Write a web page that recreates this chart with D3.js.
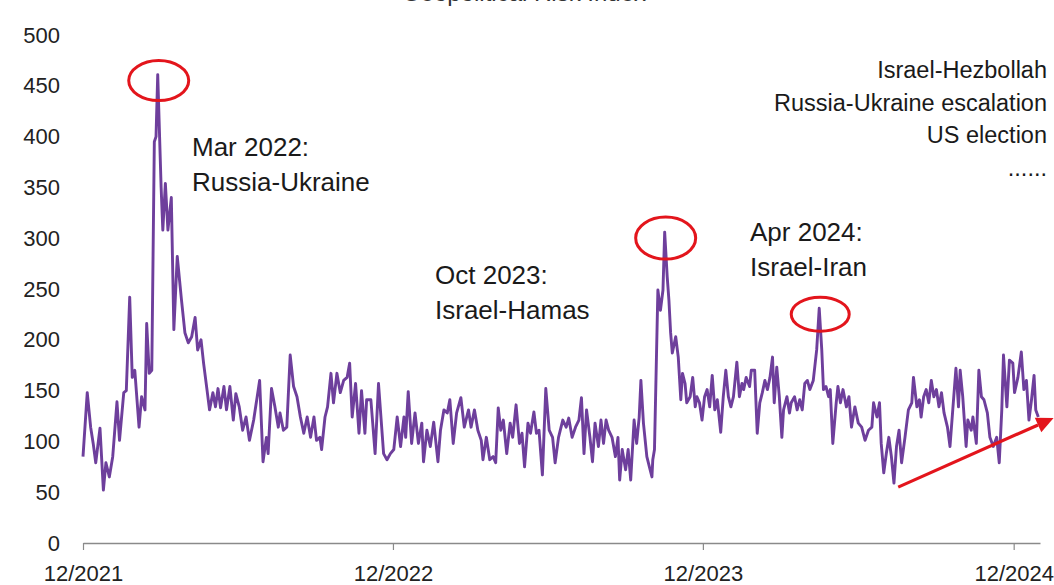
<!DOCTYPE html>
<html>
<head>
<meta charset="utf-8">
<script src="https://cdn.jsdelivr.net/npm/d3@7"></script>
<style>
  body { margin: 0; background: #ffffff; }
  svg { display: block; font-family: "Liberation Sans", Arial, sans-serif; }
</style>
</head>
<body>
<div id="chart"></div>
<script>
// geopolitical risk index (roughly every 3-4 days)
const dates = [
  "2021-12-01","2021-12-06","2021-12-10","2021-12-13","2021-12-16","2021-12-21","2021-12-25","2021-12-28",
  "2022-01-01","2022-01-05","2022-01-10","2022-01-13","2022-01-18","2022-01-21","2022-01-25","2022-01-28","2022-01-31",
  "2022-02-05","2022-02-08","2022-02-12","2022-02-14","2022-02-17","2022-02-20","2022-02-23","2022-02-25","2022-02-27",
  "2022-03-03","2022-03-05","2022-03-08","2022-03-11","2022-03-15","2022-03-18","2022-03-22","2022-03-27","2022-03-31",
  "2022-04-04","2022-04-08","2022-04-12","2022-04-15","2022-04-19","2022-04-22","2022-04-26","2022-04-29",
  "2022-05-03","2022-05-06","2022-05-09","2022-05-12","2022-05-16","2022-05-19","2022-05-23","2022-05-27","2022-05-30",
  "2022-06-03","2022-06-07","2022-06-11","2022-06-15","2022-06-20","2022-06-27",
  "2022-07-01","2022-07-05","2022-07-07","2022-07-11","2022-07-15","2022-07-19","2022-07-21","2022-07-25","2022-07-29",
  "2022-08-02","2022-08-06","2022-08-10","2022-08-14","2022-08-18","2022-08-22","2022-08-26","2022-08-30",
  "2022-09-02","2022-09-06","2022-09-08","2022-09-12","2022-09-15","2022-09-19","2022-09-22","2022-09-26","2022-09-30",
  "2022-10-04","2022-10-08","2022-10-11","2022-10-14","2022-10-18","2022-10-22","2022-10-25","2022-10-29","2022-10-31",
  "2022-11-05","2022-11-10","2022-11-14","2022-11-20","2022-11-24","2022-11-28",
  "2022-12-02","2022-12-06","2022-12-10","2022-12-14","2022-12-16","2022-12-19","2022-12-23","2022-12-27","2022-12-31",
  "2023-01-04","2023-01-06","2023-01-10","2023-01-14","2023-01-18","2023-01-23","2023-01-26","2023-01-30",
  "2023-02-03","2023-02-06","2023-02-10","2023-02-14","2023-02-19","2023-02-23","2023-02-28",
  "2023-03-03","2023-03-07","2023-03-11","2023-03-15","2023-03-17","2023-03-21","2023-03-25","2023-03-29",
  "2023-04-01","2023-04-04","2023-04-07","2023-04-10","2023-04-14","2023-04-18","2023-04-21","2023-04-25","2023-04-29",
  "2023-05-02","2023-05-05","2023-05-09","2023-05-12","2023-05-16","2023-05-19","2023-05-22","2023-05-26","2023-05-30",
  "2023-06-03","2023-06-07","2023-06-10","2023-06-14","2023-06-19","2023-06-23","2023-06-26","2023-06-30",
  "2023-07-04","2023-07-08","2023-07-11","2023-07-14","2023-07-17","2023-07-21","2023-07-24","2023-07-27","2023-07-31",
  "2023-08-03","2023-08-06","2023-08-09","2023-08-12","2023-08-16","2023-08-20","2023-08-23","2023-08-25","2023-08-28",
  "2023-09-01","2023-09-04","2023-09-07","2023-09-11","2023-09-14","2023-09-17","2023-09-19","2023-09-22","2023-09-26","2023-09-29",
  "2023-10-02","2023-10-03","2023-10-05","2023-10-09","2023-10-12","2023-10-15","2023-10-17","2023-10-20","2023-10-22","2023-10-24","2023-10-26","2023-10-30",
  "2023-11-02","2023-11-05","2023-11-07","2023-11-10","2023-11-12","2023-11-16","2023-11-19","2023-11-22","2023-11-24","2023-11-27","2023-11-30",
  "2023-12-03","2023-12-06","2023-12-09","2023-12-12","2023-12-15","2023-12-18","2023-12-22","2023-12-25","2023-12-28","2023-12-31",
  "2024-01-03","2024-01-06","2024-01-10","2024-01-13","2024-01-16","2024-01-18","2024-01-21","2024-01-25","2024-01-27","2024-01-31",
  "2024-02-03","2024-02-06","2024-02-09","2024-02-12","2024-02-15","2024-02-18","2024-02-21","2024-02-23","2024-02-26","2024-02-29",
  "2024-03-03","2024-03-05","2024-03-09","2024-03-12","2024-03-14","2024-03-18","2024-03-21","2024-03-24","2024-03-27","2024-03-30",
  "2024-04-02","2024-04-05","2024-04-09","2024-04-13","2024-04-16","2024-04-19","2024-04-21","2024-04-24","2024-04-27","2024-04-29",
  "2024-05-02","2024-05-06","2024-05-08","2024-05-11","2024-05-14","2024-05-18","2024-05-21","2024-05-24","2024-05-28",
  "2024-06-01","2024-06-05","2024-06-09","2024-06-13","2024-06-17","2024-06-19","2024-06-23","2024-06-26","2024-06-28",
  "2024-07-01","2024-07-04","2024-07-07","2024-07-10","2024-07-13","2024-07-16","2024-07-19","2024-07-22","2024-07-26","2024-07-30",
  "2024-08-03","2024-08-05","2024-08-09","2024-08-12","2024-08-14","2024-08-17","2024-08-20","2024-08-23","2024-08-26","2024-08-29",
  "2024-09-01","2024-09-04","2024-09-07","2024-09-10","2024-09-14","2024-09-17","2024-09-20","2024-09-24","2024-09-27","2024-09-29",
  "2024-10-02","2024-10-06","2024-10-08","2024-10-12","2024-10-14","2024-10-18","2024-10-21","2024-10-24","2024-10-27","2024-10-31",
  "2024-11-03","2024-11-07","2024-11-11","2024-11-14","2024-11-17","2024-11-19","2024-11-23","2024-11-26","2024-11-30",
  "2024-12-02","2024-12-06","2024-12-10","2024-12-13","2024-12-16","2024-12-19","2024-12-22","2024-12-25","2024-12-27","2024-12-30"
];

const values = [
  85,148,114,98,79,113,52,79,
  65,85,139,101,148,150,242,163,170,
  114,144,131,216,167,170,395,400,461,
  350,308,354,308,340,210,282,239,207,
  197,203,222,190,200,177,151,131,
  148,134,152,133,154,131,154,121,147,
  134,111,124,101,121,160,
  80,104,88,152,134,114,128,111,114,
  185,154,144,124,108,124,104,124,
  101,104,92,124,134,167,138,167,148,
  160,163,177,124,157,108,150,108,141,
  141,88,157,88,82,88,
  92,124,95,124,104,149,98,128,98,
  118,80,111,95,119,80,111,131,
  128,141,98,128,143,114,131,
  114,131,111,101,82,104,82,85,
  79,133,111,121,88,118,104,136,98,
  108,75,118,108,129,108,111,67,152,
  111,104,79,104,121,114,123,104,
  114,121,143,88,131,104,80,118,95,
  121,98,121,111,104,85,104,62,92,
  72,92,62,121,98,124,160,118,85,75,
  65,82,92,249,229,249,306,262,239,207,187,203,
  183,141,167,157,138,144,163,134,144,138,121,
  144,151,134,165,131,141,109,144,170,144,
  134,144,178,144,157,151,163,154,170,170,
  108,138,148,160,151,163,183,138,173,144,
  104,131,144,128,138,144,131,141,131,157,
  160,151,160,190,231,190,151,154,144,151,
  98,138,154,138,151,134,144,114,134,
  118,114,101,111,114,138,124,138,98,
  69,88,104,85,59,95,111,79,104,131,
  138,163,134,141,124,144,151,138,160,144,
  151,134,148,128,114,95,128,172,134,170,
  144,95,121,111,124,98,170,144,141,128,
  104,95,104,79,131,185,134,180,177,
  148,163,188,151,160,121,141,165,131,124
];

const yTicks = [0, 50, 100, 150, 200, 250, 300, 350, 400, 450, 500];
const xTickDates = ["2021-12-01", "2022-12-01", "2023-12-01", "2024-12-01"];

// circled events
const eventDates = ["2022-02-27", "2023-10-17", "2024-04-16"];
const eventLabels = [
  ["Mar 2022:", "Russia-Ukraine"],
  ["Oct 2023:", "Israel-Hamas"],
  ["Apr 2024:", "Israel-Iran"]
];
const outlookNotes = ["Israel-Hezbollah", "Russia-Ukraine escalation", "US election", "......"];

// trend arrow (start, end)
const arrowDates = ["2024-07-18", "2025-01-17"];
const arrowValues = [55, 123];

const W = 1054, H = 585;
const parse = d3.timeParse("%Y-%m-%d");

const data = dates.map((d, i) => ({ date: parse(d), value: values[i] }));

const svg = d3.select("#chart").append("svg")
    .attr("width", W)
    .attr("height", H);

const x = d3.scaleTime()
    .domain([parse("2021-12-01"), parse("2025-01-01")])
    .range([83, 1040]);

const y = d3.scaleLinear()
    .domain([0, 500])
    .range([543, 35]);

// title (cut off at the top in the source)
svg.append("text")
    .attr("x", 524)
    .attr("y", 1)
    .attr("text-anchor", "middle")
    .style("font-size", "24px")
    .style("fill", "#333")
    .text("Geopolitical Risk Index");

// y axis: labels only
svg.append("g")
    .attr("transform", "translate(83,0)")
    .call(d3.axisLeft(y).tickValues(yTicks).tickSize(0).tickPadding(23))
    .call(g => g.select(".domain").remove())
    .selectAll("text")
    .style("font-size", "22px")
    .style("font-family", "Liberation Sans")
    .style("fill", "#222");

// x axis
const xAxis = svg.append("g")
    .attr("transform", "translate(0,543)")
    .call(d3.axisBottom(x)
        .tickValues(xTickDates.map(parse))
        .tickFormat(d3.timeFormat("%m/%Y"))
        .tickSize(7)
        .tickSizeOuter(0)
        .tickPadding(15));

xAxis.select(".domain").attr("stroke", "#8a8a8a").attr("stroke-width", 1.5);
xAxis.selectAll(".tick line").attr("stroke", "#8a8a8a").attr("stroke-width", 1.2);
xAxis.selectAll("text")
    .style("font-size", "22px")
    .style("font-family", "Liberation Sans")
    .style("fill", "#222");

// the index line
const line = d3.line()
    .x(d => x(d.date))
    .y(d => y(d.value));

svg.append("path")
    .datum(data)
    .attr("fill", "none")
    .attr("stroke", "#6e3f9c")
    .attr("stroke-width", 2.9)
    .attr("stroke-linejoin", "round")
    .attr("d", line);

// red circles round the peaks
const ellipseSize = [[30, 20], [30, 21], [29, 17]];
eventDates.forEach((ed, i) => {
    const p = data.find(d => +d.date === +parse(ed));
    svg.append("ellipse")
        .attr("cx", x(p.date) + 1)
        .attr("cy", y(p.value) + 6)
        .attr("rx", ellipseSize[i][0])
        .attr("ry", ellipseSize[i][1])
        .attr("fill", "none")
        .attr("stroke", "#e3151c")
        .attr("stroke-width", 3);
});

// event labels
const labelPos = [[192, 156], [435, 284], [750, 241]];
eventLabels.forEach((lines, i) => {
    const t = svg.append("text")
        .attr("x", labelPos[i][0])
        .attr("y", labelPos[i][1])
        .style("font-size", "26px")
        .style("fill", "#1a1a1a");
    lines.forEach((s, j) => {
        t.append("tspan")
            .attr("x", labelPos[i][0])
            .attr("dy", j === 0 ? 0 : 35)
            .text(s);
    });
});

// notes top right
svg.selectAll("text.note")
    .data(outlookNotes)
    .enter()
    .append("text")
    .attr("class", "note")
    .attr("x", 1047)
    .attr("y", (d, i) => 78 + i * 32.5)
    .attr("text-anchor", "end")
    .style("font-size", "23.5px")
    .style("fill", "#1a1a1a")
    .text(d => d);

// trend arrow
const ax0 = x(parse(arrowDates[0])), ay0 = y(arrowValues[0]);
const ax1 = x(parse(arrowDates[1])), ay1 = y(arrowValues[1]);
const ang = Math.atan2(ay1 - ay0, ax1 - ax0);
const headLen = 17, headW = 8;
const bx = ax1 - headLen * Math.cos(ang), by = ay1 - headLen * Math.sin(ang);

svg.append("line")
    .attr("x1", ax0).attr("y1", ay0)
    .attr("x2", bx).attr("y2", by)
    .attr("stroke", "#e3151c")
    .attr("stroke-width", 3.2);

svg.append("polygon")
    .attr("points", [
        [ax1, ay1],
        [bx + headW * Math.sin(ang), by - headW * Math.cos(ang)],
        [bx - headW * Math.sin(ang), by + headW * Math.cos(ang)]
    ].map(p => p.join(",")).join(" "))
    .attr("fill", "#e3151c");
</script>
</body>
</html>
